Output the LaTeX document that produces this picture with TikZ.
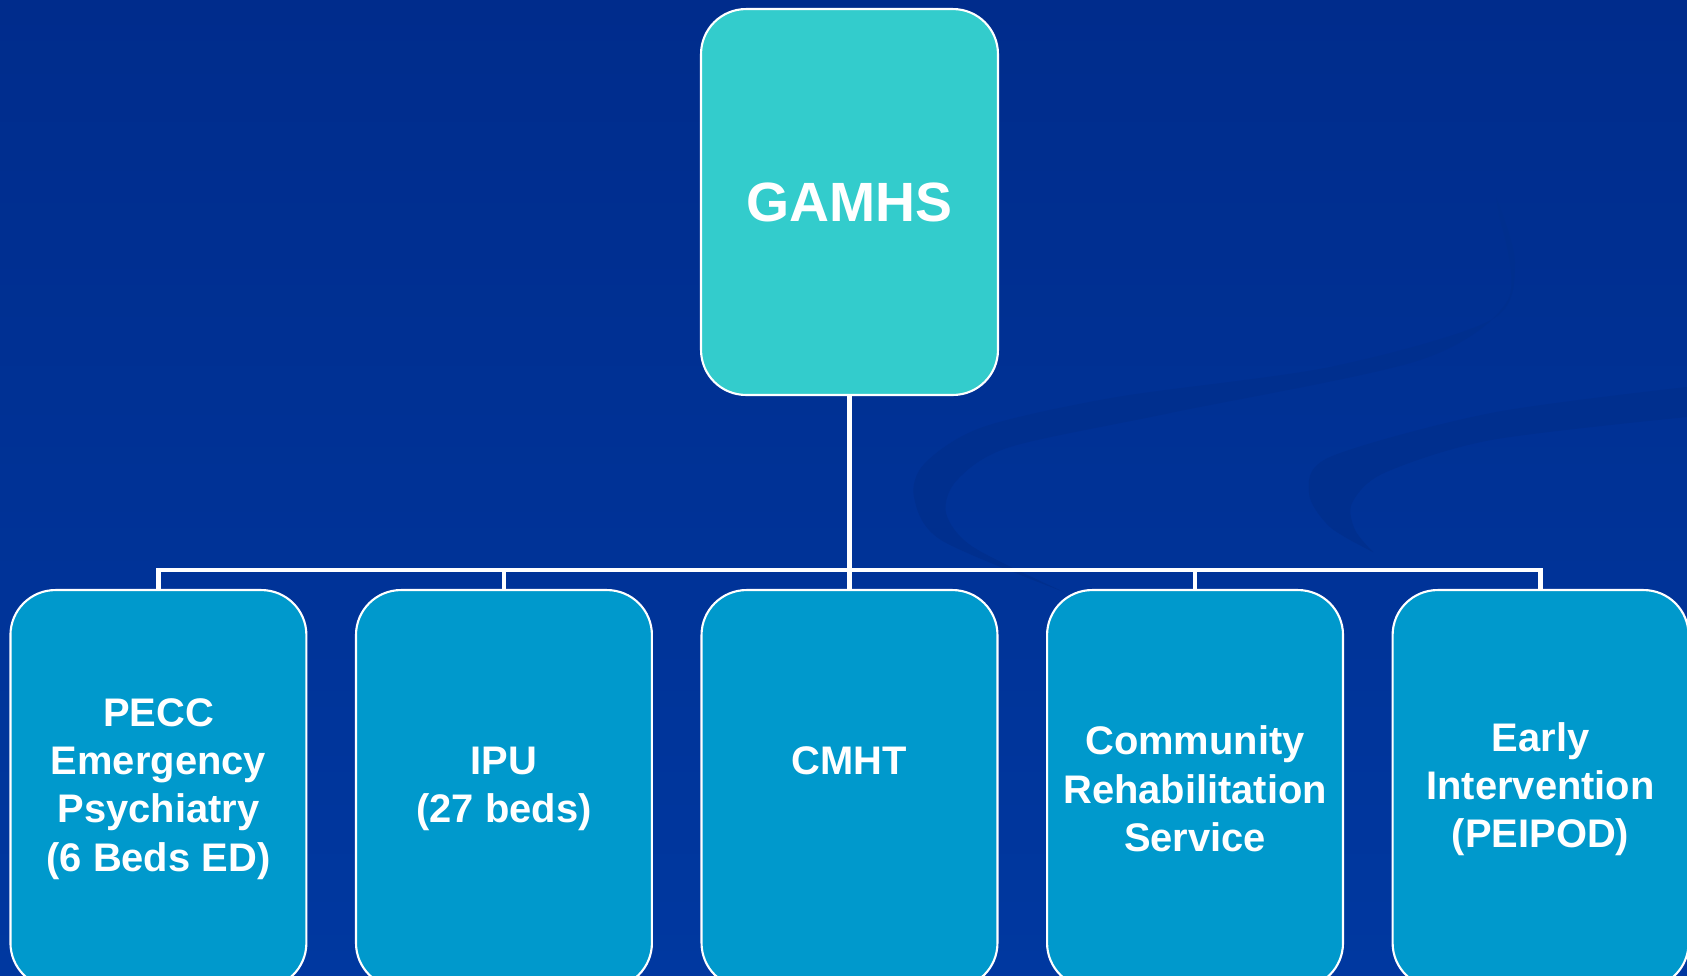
\documentclass[tikz,border=0pt]{standalone}
\usepackage{fontspec}
\setmainfont{Liberation Sans}
\usepackage{tikz}
\usetikzlibrary{positioning}
\definecolor{bgtop}{HTML}{002C8C}
\definecolor{bgbot}{HTML}{0038A0}
\definecolor{swirl}{HTML}{002F8E}
\definecolor{headfill}{HTML}{33CCCC}
\definecolor{unitfill}{HTML}{0099CC}

\begin{document}
\begin{tikzpicture}[x=0.02cm, y=-0.02cm,
	head/.style={draw=white, line width=1.2pt, fill=headfill,
	rounded corners=0.9cm, minimum width=5.94cm, minimum height=7.72cm,
	text=white, font=\fontsize{31.5}{38}\selectfont\bfseries},
	unit/.style={draw=white, line width=1.2pt, fill=unitfill,
	rounded corners=0.9cm, minimum width=5.92cm, minimum height=7.96cm,
	text=white, align=center, font=\fontsize{22.7}{27.5}\selectfont\bfseries},
	link/.style={draw=white, line width=2.6pt},
	node distance=0.95cm]
	\useasboundingbox (0,0) rectangle (1687,975);
	\fill[top color=bgtop, bottom color=bgbot] (0,0) rectangle (1687,975);
	% swirl in the background
	\fill[swirl] plot[smooth] coordinates {(1496,197) (1515,263) (1491,320) (1330,367) (1117,397) (983,427) (925,463) (914,497) (941,540) (1064,592)}
	    -- plot[smooth] coordinates {(1064,592) (973,547) (946,513) (957,480) (1010,447) (1170,413) (1420,360) (1508,300) (1500,220)} -- cycle;
	\fill[swirl] plot[smooth] coordinates {(1687,387) (1491,413) (1330,457) (1309,493) (1330,527) (1373,552)}
	    -- plot[smooth] coordinates {(1373,552) (1355,530) (1352,503) (1384,473) (1491,440) (1687,417)} -- cycle;
	\node[head] (gamhs) at (849.5,202) {GAMHS};
	\node[unit] (cmht) at (849.5,789) {CMHT\\\phantom{(}};
	\node[unit, left=of cmht] (ipu) {IPU\\(27 beds)};
	\node[unit, left=of ipu] (pecc) {PECC\\Emergency\\Psychiatry\\(6 Beds ED)};
	\node[unit, right=of cmht] (rehab) {Community\\Rehabilitation\\Service};
	\node[unit, right=of rehab] (early) {Early\\Intervention\\(PEIPOD)};
	\coordinate (bus) at (849.5,570);
	\draw[link] (gamhs.south) -- (bus);
	\foreach \u in {pecc,ipu,cmht,rehab,early}
	    \draw[link] (bus) -| (\u.north);
\end{tikzpicture}
\end{document}
